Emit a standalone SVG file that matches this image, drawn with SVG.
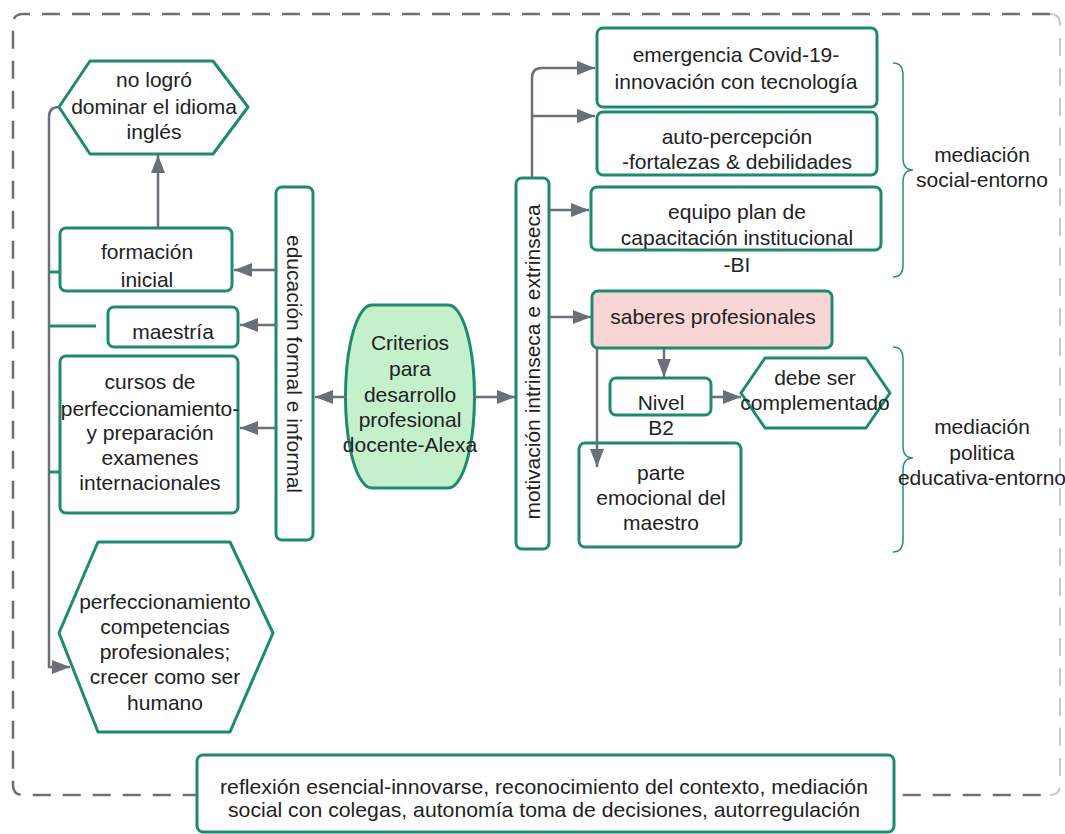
<svg xmlns="http://www.w3.org/2000/svg" width="1065" height="834" viewBox="0 0 1065 834">
<style>
.n{fill:#ffffff;stroke:#1f8a70;stroke-width:3;stroke-linejoin:round}
.t{font-family:"Liberation Sans",Arial,sans-serif;font-size:21px;fill:#222222;text-anchor:middle}
.c{fill:none;stroke:#6b6f78;stroke-width:2.5}
.stub{fill:none;stroke:#1f8a70;stroke-width:3}
.br{fill:none;stroke:#2a8f78;stroke-width:1.5}
</style>
<defs>
<marker id="ah" markerUnits="userSpaceOnUse" markerWidth="20" markerHeight="16" refX="18" refY="7" orient="auto">
<path d="M0,0 L18,7 L0,14 Z" fill="#6b6f78"/>
</marker>
</defs>
<rect width="1065" height="834" fill="#ffffff"/>
<g id="border">
<path d="M1050 14 H23 Q13 14 13 24 V785 Q13 795 23 795 H1050" fill="none" stroke="#6f6f6f" stroke-width="2.5" stroke-dasharray="18 12"/>
<path d="M1050 14 Q1060 14 1060 24 V785 Q1060 795 1050 795" fill="none" stroke="#c8c8c8" stroke-width="2" stroke-dasharray="18 12"/>
</g>
<g id="n-ingles">
<polygon class="n" points="59,107 90,61 213,61 248,107 213,154 90,154"/>
<text class="t" x="154" y="87">no logró</text>
<text class="t" x="154" y="114">dominar el idioma</text>
<text class="t" x="154" y="139">inglés</text>
</g>
<g id="n-formacion">
<rect class="n" x="60" y="228" width="172" height="63" rx="6"/>
<text class="t" x="147" y="259">formación</text>
<text class="t" x="147" y="287">inicial</text>
</g>
<g id="n-maestria">
<rect class="n" x="108" y="307" width="130" height="40" rx="6"/>
<text class="t" x="173" y="339">maestría</text>
</g>
<g id="n-cursos">
<rect class="n" x="60" y="356" width="178" height="157" rx="6"/>
<text class="t" x="150" y="389">cursos de</text>
<text class="t" x="150" y="416">perfeccionamiento-</text>
<text class="t" x="150" y="440">y preparación</text>
<text class="t" x="150" y="465">examenes</text>
<text class="t" x="150" y="490">internacionales</text>
</g>
<g id="n-perfecc">
<polygon class="n" points="59,633 98,542 230,542 273,633 230,732 98,732"/>
<text class="t" x="165" y="609">perfeccionamiento</text>
<text class="t" x="165" y="634">competencias</text>
<text class="t" x="165" y="659">profesionales;</text>
<text class="t" x="165" y="684">crecer como ser</text>
<text class="t" x="165" y="710">humano</text>
</g>
<g id="n-educacion">
<rect class="n" x="276" y="187" width="37" height="353" rx="6"/>
<text class="t" transform="translate(294,364) rotate(90)" x="0" y="7">educación formal e informal</text>
</g>
<g id="n-criterios">
<path class="n" style="fill:#c4f0cb" d="M372 305 H448 Q452 305 455 308 C481 335 481 458 455 485 Q452 488 448 488 H372 Q368 488 365 485 C339 458 339 335 365 308 Q368 305 372 305 Z"/>
<text class="t" x="410" y="350">Criterios</text>
<text class="t" x="410" y="376">para</text>
<text class="t" x="410" y="402">desarrollo</text>
<text class="t" x="410" y="427">profesional</text>
<text class="t" x="410" y="452">docente-Alexa</text>
</g>
<g id="n-motivacion">
<rect class="n" x="516" y="178" width="33" height="371" rx="6"/>
<text class="t" transform="translate(533,362) rotate(-90)" x="0" y="7">motivación intrinseca e extrinseca</text>
</g>
<g id="n-emergencia">
<rect class="n" x="597" y="28" width="280" height="79" rx="6"/>
<text class="t" x="736" y="62">emergencia Covid-19-</text>
<text class="t" x="736" y="89">innovación con tecnología</text>
</g>
<g id="n-auto">
<rect class="n" x="597" y="112" width="280" height="63" rx="6"/>
<text class="t" x="737" y="144">auto-percepción</text>
<text class="t" x="737" y="169">-fortalezas &amp; debilidades</text>
</g>
<g id="n-equipo">
<rect class="n" x="591" y="187" width="290" height="63" rx="6"/>
<text class="t" x="737" y="219">equipo plan de</text>
<text class="t" x="737" y="245">capacitación institucional</text>
<text class="t" x="737" y="272">-BI</text>
</g>
<g id="n-saberes">
<rect class="n" style="fill:#f8d6d6" x="592" y="291" width="240" height="57" rx="6"/>
<text class="t" x="713" y="324">saberes profesionales</text>
</g>
<g id="n-nivel">
<rect class="n" x="610" y="378" width="101" height="37" rx="6"/>
<text class="t" x="661" y="410">Nivel</text>
<text class="t" x="661" y="435">B2</text>
</g>
<g id="n-debe">
<polygon class="n" points="741,393 765,358 866,358 890,393 866,428 765,428"/>
<text class="t" x="815" y="385">debe ser</text>
<text class="t" x="815" y="410">complementado</text>
</g>
<g id="n-parte">
<rect class="n" x="579" y="443" width="162" height="104" rx="6"/>
<text class="t" x="661" y="480">parte</text>
<text class="t" x="661" y="505">emocional del</text>
<text class="t" x="661" y="530">maestro</text>
</g>
<g id="n-social">
<path class="br" d="M893 63 Q903 63 903 75 V158 Q903 170 913 170 Q903 170 903 182 V265 Q903 277 893 277"/>
<text class="t" x="982" y="162">mediación</text>
<text class="t" x="982" y="187">social-entorno</text>
</g>
<g id="n-politica">
<path class="br" d="M893 347 Q903 347 903 359 V446 Q903 458 913 458 Q903 458 903 470 V540 Q903 552 893 552"/>
<text class="t" x="982" y="434">mediación</text>
<text class="t" x="982" y="460">politica</text>
<text class="t" x="982" y="485">educativa-entorno</text>
</g>
<g id="n-reflexion">
<rect class="n" x="197" y="755" width="697" height="77" rx="6"/>
<text class="t" x="544" y="794" textLength="648" lengthAdjust="spacingAndGlyphs">reflexión esencial-innovarse, reconocimiento del contexto, mediación</text>
<text class="t" x="544" y="817" textLength="632" lengthAdjust="spacingAndGlyphs">social con colegas, autonomía toma de decisiones, autorregulación</text>
</g>
<g id="connectors">
<path class="c" d="M59 107 Q49 107 49 117 V667 H70" marker-end="url(#ah)"/>
<path class="c" d="M158 228 V155" marker-end="url(#ah)"/>
<path class="c" d="M276 270 H234" marker-end="url(#ah)"/>
<path class="c" d="M276 325 H240" marker-end="url(#ah)"/>
<path class="c" d="M276 428 H240" marker-end="url(#ah)"/>
<path class="c" d="M347 397 H315" marker-end="url(#ah)"/>
<path class="c" d="M473 397 H515" marker-end="url(#ah)"/>
<path class="c" d="M532 177 V78 Q532 68 542 68 H595" marker-end="url(#ah)"/>
<path class="c" d="M532 116 H595" marker-end="url(#ah)"/>
<path class="c" d="M550 210 H589" marker-end="url(#ah)"/>
<path class="c" d="M550 317 H591" marker-end="url(#ah)"/>
<path class="c" d="M664 349 V377" marker-end="url(#ah)"/>
<path class="c" d="M712 397 H741" marker-end="url(#ah)"/>
<path class="c" d="M597 349 V467" marker-end="url(#ah)"/>
<path class="stub" d="M49 272 H59"/>
<path class="stub" d="M49 326 H96"/>
<path class="stub" d="M49 472 H59"/>
</g>
</svg>
